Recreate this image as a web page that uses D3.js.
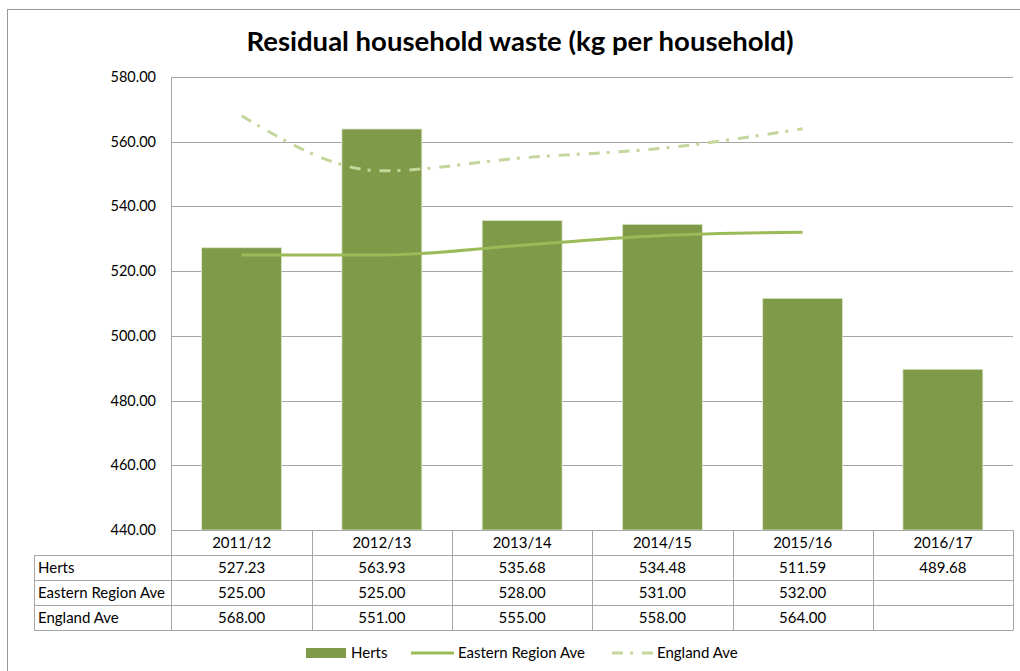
<!DOCTYPE html>
<html>
<head>
<meta charset="utf-8">
<script src="https://cdn.jsdelivr.net/npm/d3@7"></script>
<style>
  body { margin: 0; background: #fff; }
  svg text { font-family: Lato, "Liberation Sans", sans-serif; fill: #000; }
</style>
</head>
<body>
<svg width="1020" height="671"></svg>
<script>
// data
let years = ["2011/12", "2012/13", "2013/14", "2014/15", "2015/16", "2016/17"];
let herts = [527.23, 563.93, 535.68, 534.48, 511.59, 489.68];
let eastern = [525.0, 525.0, 528.0, 531.0, 532.0, null];
let england = [568.0, 551.0, 555.0, 558.0, 564.0, null];
let rowNames = ["Herts", "Eastern Region Ave", "England Ave"];
let yDomain = [440, 580];

let svg = d3.select("svg");
let plotLeft = 171.5, plotRight = 1013, plotTop = 77, plotBottom = 530;
let rowH = 25;

let barColor = "#7f9b49";
let eastColor = "#9bbb59";
let engColor = "#c3d69b";
let gridColor = "#a6a6a6";

// outer chart border (cropped on right/bottom)
svg.append("rect")
  .attr("x", 7.5).attr("y", 9.5)
  .attr("width", 1030).attr("height", 700)
  .attr("fill", "none").attr("stroke", "#999");

svg.append("text")
  .attr("x", 520).attr("y", 51)
  .attr("text-anchor", "middle")
  .style("font-size", "27.5px").style("font-weight", "bold")
  .text("Residual household waste (kg per household)");

let x = d3.scaleBand().domain(years).range([plotLeft, plotRight]);
let y = d3.scaleLinear().domain(yDomain).range([plotBottom, plotTop]);

// gridlines
svg.append("g")
  .selectAll("line")
  .data(y.ticks(7))
  .enter()
  .append("line")
  .attr("x1", plotLeft).attr("x2", plotRight)
  .attr("y1", (d) => Math.round(y(d)) + 0.5)
  .attr("y2", (d) => Math.round(y(d)) + 0.5)
  .attr("stroke", gridColor);

// y labels
svg.append("g")
  .selectAll("text")
  .data(y.ticks(7))
  .enter()
  .append("text")
  .attr("x", 156)
  .attr("y", (d) => y(d) + 5)
  .attr("text-anchor", "end")
  .style("font-size", "14.5px")
  .text((d) => d.toFixed(2));

// bars
let barW = x.bandwidth() * 0.57;
svg.append("g")
  .selectAll("rect")
  .data(herts)
  .enter()
  .append("rect")
  .attr("x", (d, i) => x(years[i]) + (x.bandwidth() - barW) / 2)
  .attr("y", (d) => y(d))
  .attr("width", barW)
  .attr("height", (d) => plotBottom - y(d))
  .attr("fill", barColor)
  .attr("stroke", "#dfe7cf")
  .attr("stroke-width", 0.8);

// lines
let line = d3.line()
  .defined((d) => d != null)
  .x((d, i) => x(years[i]) + x.bandwidth() / 2)
  .y((d) => y(d))
  .curve(d3.curveMonotoneX);

svg.append("path")
  .attr("d", line(eastern))
  .attr("fill", "none")
  .attr("stroke", eastColor)
  .attr("stroke-width", 3);

svg.append("path")
  .attr("d", line(england))
  .attr("fill", "none")
  .attr("stroke", engColor)
  .attr("stroke-width", 3)
  .attr("stroke-dasharray", "11,7,3,9");

// data table
let tableLeft = 34;
let tbl = svg.append("g").attr("stroke", gridColor).attr("stroke-width", 1);
// vertical axis line down through table
tbl.append("line")
  .attr("x1", plotLeft).attr("x2", plotLeft)
  .attr("y1", plotTop).attr("y2", plotBottom + rowH * 4);
// bottom of plot / header top
tbl.append("line")
  .attr("x1", plotLeft).attr("x2", plotRight)
  .attr("y1", plotBottom + 0.5).attr("y2", plotBottom + 0.5);
// row lines
for (var r = 1; r <= 4; r++) {
  tbl.append("line")
    .attr("x1", tableLeft).attr("x2", plotRight)
    .attr("y1", plotBottom + rowH * r + 0.5).attr("y2", plotBottom + rowH * r + 0.5);
}
tbl.append("line")
  .attr("x1", tableLeft + 0.5).attr("x2", tableLeft + 0.5)
  .attr("y1", plotBottom + rowH).attr("y2", plotBottom + rowH * 4 + 0.5);
tbl.selectAll(".vcol")
  .data(years)
  .enter()
  .append("line")
  .attr("x1", (d) => Math.round(x(d) + x.bandwidth()) + 0.5)
  .attr("x2", (d) => Math.round(x(d) + x.bandwidth()) + 0.5)
  .attr("y1", plotBottom)
  .attr("y2", plotBottom + rowH * 4 + 0.5);

// header text
svg.append("g")
  .selectAll("text")
  .data(years)
  .enter()
  .append("text")
  .attr("x", (d) => x(d) + x.bandwidth() / 2)
  .attr("y", plotBottom + 18)
  .attr("text-anchor", "middle")
  .style("font-size", "15px")
  .text((d) => d);

let rows = [herts, eastern, england];
rows.forEach(function (vals, r) {
  let ty = plotBottom + rowH * (r + 1) + 18;
  svg.append("text")
    .attr("x", 38).attr("y", ty)
    .style("font-size", "15px")
    .text(rowNames[r]);
  svg.append("g")
    .selectAll("text")
    .data(vals)
    .enter()
    .append("text")
    .attr("x", (d, i) => x(years[i]) + x.bandwidth() / 2)
    .attr("y", ty)
    .attr("text-anchor", "middle")
    .style("font-size", "15px")
    .text((d) => (d == null ? "" : d.toFixed(2)));
});

// legend
let lg = svg.append("g");
let ly = 653;
lg.append("rect").attr("x", 306).attr("y", ly - 5).attr("width", 40).attr("height", 10).attr("fill", barColor);
lg.append("text").attr("x", 351).attr("y", ly + 5).style("font-size", "15px").text("Herts");
lg.append("line").attr("x1", 411).attr("x2", 454).attr("y1", ly).attr("y2", ly)
  .attr("stroke", eastColor).attr("stroke-width", 3);
lg.append("text").attr("x", 458).attr("y", ly + 5).style("font-size", "15px").text("Eastern Region Ave");
lg.append("line").attr("x1", 612).attr("x2", 656).attr("y1", ly).attr("y2", ly)
  .attr("stroke", engColor).attr("stroke-width", 3).attr("stroke-dasharray", "11,7,3,9");
lg.append("text").attr("x", 657).attr("y", ly + 5).style("font-size", "15px").text("England Ave");
</script>
</body>
</html>
